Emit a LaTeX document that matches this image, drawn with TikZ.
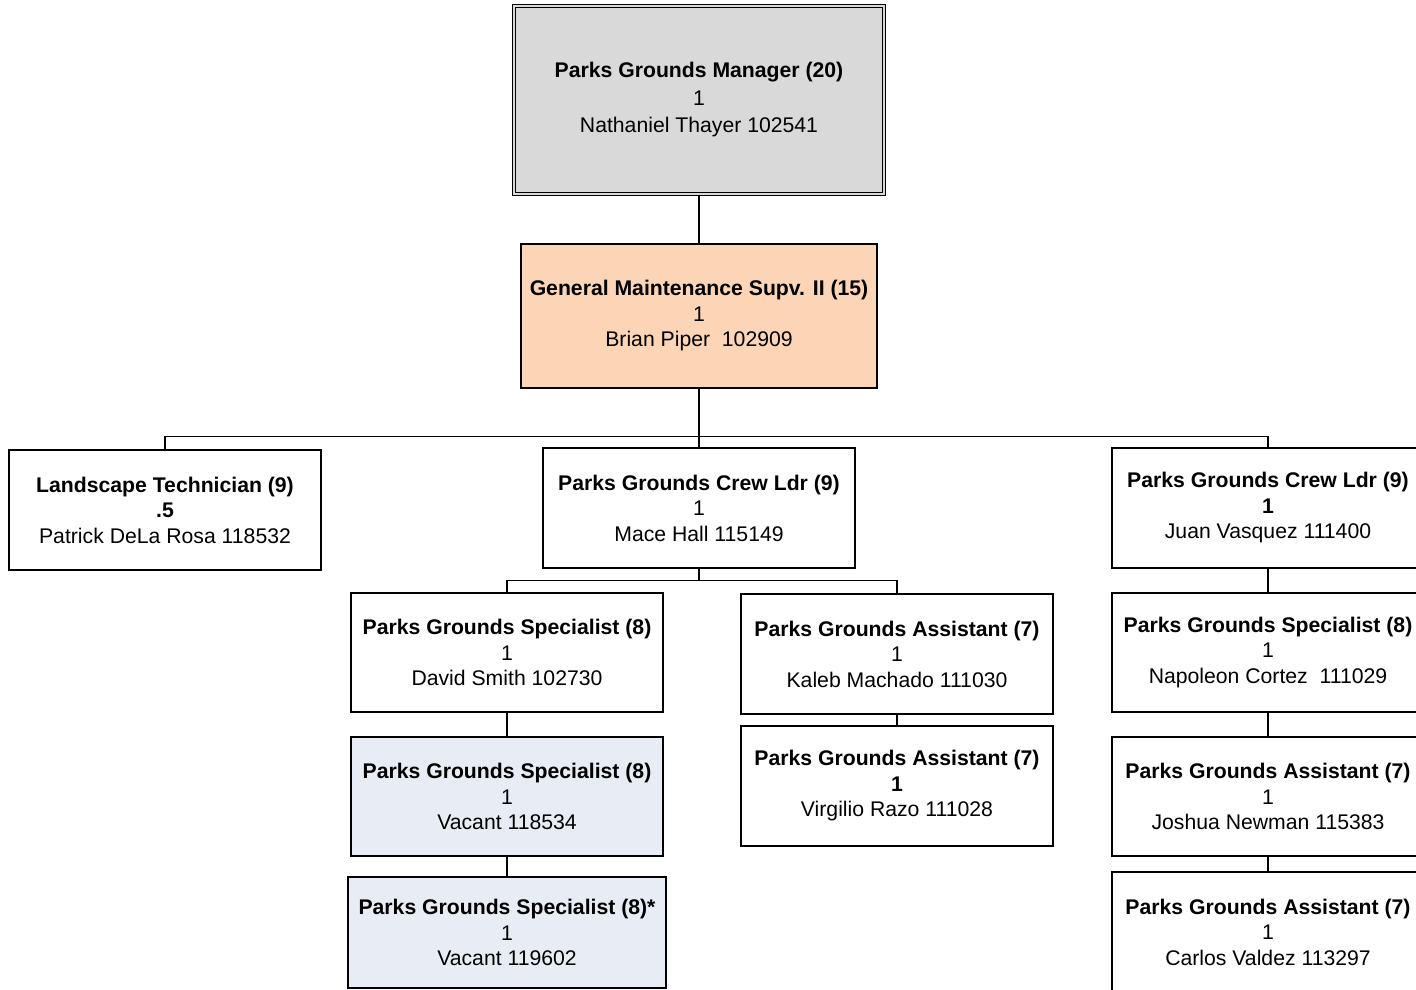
\documentclass[tikz,border=0pt]{standalone}
\usepackage{fontspec}
\setmainfont{Liberation Sans}
\usetikzlibrary{calc}
\definecolor{mgrgray}{HTML}{D9D9D9}
\definecolor{supvpeach}{HTML}{FBD5B5}
\definecolor{vacantblue}{HTML}{E8ECF4}
\newcommand{\postext}[3]{\textbf{#1}\\#2\\#3}

\begin{document}
\begin{tikzpicture}[x=1pt,y=-1pt,
    posbox/.style={draw, line width=1.3pt, fill=white, align=center, inner sep=0pt,
        font=\fontsize{21.2}{25.5}\selectfont, minimum width=312pt, minimum height=120pt},
    link/.style={line width=1.3pt}]
    \useasboundingbox (0,0) rectangle (1416,990);
    \clip (0,0) rectangle (1416,990);
        \node[posbox, fill=mgrgray, double, double=mgrgray, double distance=2.2pt,
            font=\fontsize{21.2}{27.5}\selectfont,
            minimum width=370pt, minimum height=188pt] (mgr) at (699,100)
            {\postext{Parks Grounds Manager (20)}{1}{Nathaniel Thayer 102541}};
        \node[posbox, fill=supvpeach, minimum width=356pt, minimum height=144pt] (supv) at (699,316)
            {\postext{General Maintenance Supv. II (15)}{1}{Brian Piper\ \ 102909}};
        \node[posbox] (tech) at (165,510)
            {\postext{Landscape Technician (9)}{\textbf{.5}}{Patrick DeLa Rosa 118532}};
        \node[posbox] (ldrA) at (699,508)
            {\postext{Parks Grounds Crew Ldr (9)}{1}{Mace Hall 115149}};
        \node[posbox] (ldrB) at (1268,508)
            {\postext{Parks Grounds Crew Ldr (9)}{\textbf{1}}{Juan Vasquez 111400}};
        \node[posbox, minimum height=119pt] (specA) at (507,652.5)
            {\postext{Parks Grounds Specialist (8)}{1}{David Smith 102730}};
        \node[posbox] (asstA) at (897,654)
            {\postext{Parks Grounds Assistant (7)}{1}{Kaleb Machado 111030}};
        \node[posbox, minimum height=119pt] (specB) at (1268,652.5)
            {\postext{Parks Grounds Specialist (8)}{1}{Napoleon Cortez\ \ 111029}};
        \node[posbox, fill=vacantblue, minimum height=119pt] (vacA) at (507,796.5)
            {\postext{Parks Grounds Specialist (8)}{1}{Vacant 118534}};
        \node[posbox, fill=vacantblue, minimum width=318pt, minimum height=111pt] (vacB) at (507,932.5)
            {\postext{Parks Grounds Specialist (8)*}{1}{Vacant 119602}};
        \node[posbox] (asstB) at (897,786)
            {\postext{Parks Grounds Assistant (7)}{\textbf{1}}{Virgilio Razo 111028}};
        \node[posbox, minimum height=119pt] (asstC) at (1268,796.5)
            {\postext{Parks Grounds Assistant (7)}{1}{Joshua Newman 115383}};
        \node[posbox, minimum height=120pt] (asstD) at (1268,932)
            {\postext{Parks Grounds Assistant (7)}{1}{Carlos Valdez 113297}};

        \draw[link] (mgr.south) -- (supv.north);
        \draw[link] (supv.south) -- (ldrA.north);
        \draw[link] (tech.north) -- ++(0,-13) coordinate (busA) -| (ldrB.north);
        \draw[link] (ldrA.south) -- ++(0,12) coordinate (busB);
        \draw[link] (specA.north) |- (busB) -| (asstA.north);
        \draw[link] (specA.south) -- (vacA.north);
        \draw[link] (vacA.south) -- (vacB.north);
        \draw[link] (asstA.south) -- (asstB.north);
        \draw[link] (ldrB.south) -- (specB.north);
        \draw[link] (specB.south) -- (asstC.north);
        \draw[link] (asstC.south) -- (asstD.north);
    \end{tikzpicture}
\end{document}
